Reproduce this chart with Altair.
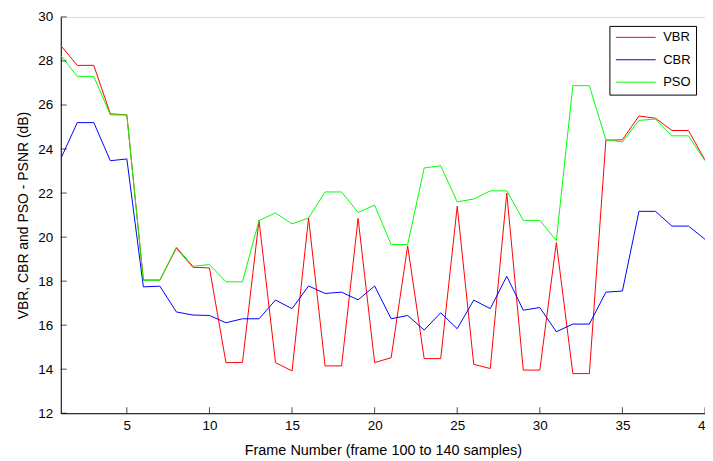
import altair as alt
import pandas as pd

frames = list(range(1, 41))
vbr = [28.7, 27.8, 27.8, 25.6, 25.55, 18.05, 18.05, 19.5, 18.63, 18.6,
       14.3, 14.3, 20.76, 14.3, 13.92, 20.87, 14.15, 14.15, 20.85, 14.3,
       14.52, 19.6, 14.48, 14.48, 21.4, 14.22, 14.03, 22.0, 13.96, 13.96,
       19.75, 13.8, 13.8, 24.4, 24.42, 25.5, 25.4, 24.84, 24.84, 23.5]
cbr = [23.56, 25.2, 25.2, 23.47, 23.55, 17.74, 17.77, 16.6, 16.46, 16.44,
       16.11, 16.29, 16.29, 17.14, 16.75, 17.78, 17.44, 17.5, 17.15, 17.78,
       16.29, 16.44, 15.78, 16.56, 15.84, 17.14, 16.75, 18.22, 16.68, 16.8,
       15.7, 16.05, 16.05, 17.5, 17.55, 21.17, 21.17, 20.5, 20.5, 19.9]
pso = [28.25, 27.3, 27.3, 25.55, 25.55, 18.04, 18.04, 19.55, 18.68, 18.75,
       17.97, 17.97, 20.75, 21.1, 20.6, 20.87, 22.05, 22.05, 21.12, 21.45,
       19.66, 19.66, 23.14, 23.24, 21.6, 21.73, 22.1, 22.1, 20.76, 20.76,
       19.84, 26.88, 26.88, 24.42, 24.32, 25.3, 25.36, 24.6, 24.6, 23.47]
series = ["VBR", "CBR", "PSO"]
colors = ["#ff0000", "#0000ff", "#00ff00"]
x_ticks = [5, 10, 15, 20, 25, 30, 35, 40]
y_ticks = [12, 14, 16, 18, 20, 22, 24, 26, 28, 30]

rows = []
for name, vals in zip(series, [vbr, cbr, pso]):
    for f, v in zip(frames, vals):
        rows.append({"frame": f, "psnr": v, "series": name})
df = pd.DataFrame(rows)

FONT = "Liberation Sans, Arial, sans-serif"

xscale = alt.Scale(domain=[1, 40], nice=False, zero=False)
yscale = alt.Scale(domain=[12, 30], nice=False, zero=False)

lines = alt.Chart(df).mark_line(strokeWidth=1, clip=True).encode(
    x=alt.X("frame:Q", scale=xscale,
            axis=alt.Axis(values=x_ticks, ticks=False, grid=False, domainColor="black",
                          labelColor="black", labelFontSize=13.5, labelFont=FONT,
                          labelPadding=5, title="Frame Number (frame 100 to 140 samples)",
                          titleFont=FONT, titleFontSize=14.5, titleFontWeight="normal",
                          titleColor="black", titlePadding=12, labelFlush=False)),
    y=alt.Y("psnr:Q", scale=yscale,
            axis=alt.Axis(values=y_ticks, ticks=False, grid=False, domainColor="black",
                          labelColor="black", labelFontSize=13.5, labelFont=FONT,
                          labelPadding=8, title="VBR, CBR and PSO - PSNR (dB)",
                          titleFont=FONT, titleFontSize=14, titleFontWeight="normal",
                          titleColor="black", titlePadding=7, labelFlush=False)),
    color=alt.Color("series:N", scale=alt.Scale(domain=series, range=colors),
                    legend=alt.Legend(title=None, orient="none", legendX=551, legendY=9,
                                      symbolType="M-1,0H7", symbolSize=100,
                                      symbolStrokeWidth=1, symbolFillColor="transparent",
                                      strokeColor="black", padding=5, fillColor="white",
                                      labelFont=FONT, labelFontSize=13, labelColor="black",
                                      rowPadding=8.5, labelOffset=36)),
    order=alt.Order("frame:Q"),
)

xt = pd.DataFrame({"t": x_ticks})
yt = pd.DataFrame({"t": y_ticks})
xticks = alt.Chart(xt).mark_tick(color="black", thickness=1, size=6, yOffset=-3,
                                 orient="vertical").encode(
    x=alt.X("t:Q", scale=xscale), y=alt.datum(12, scale=yscale))
yticks = alt.Chart(yt).mark_tick(color="black", thickness=1, size=6, xOffset=3,
                                 orient="horizontal").encode(
    y=alt.Y("t:Q", scale=yscale), x=alt.datum(1, scale=xscale))

chart = alt.layer(lines, xticks, yticks).properties(
    width=647, height=398,
    autosize=alt.AutoSizeParams(type="none"),
    padding={"left": 53, "top": 8, "right": 0, "bottom": 47},
).configure_view(stroke=None).configure(background="white")

chart.save("out.html", embed_options={"renderer": "svg", "actions": False})
